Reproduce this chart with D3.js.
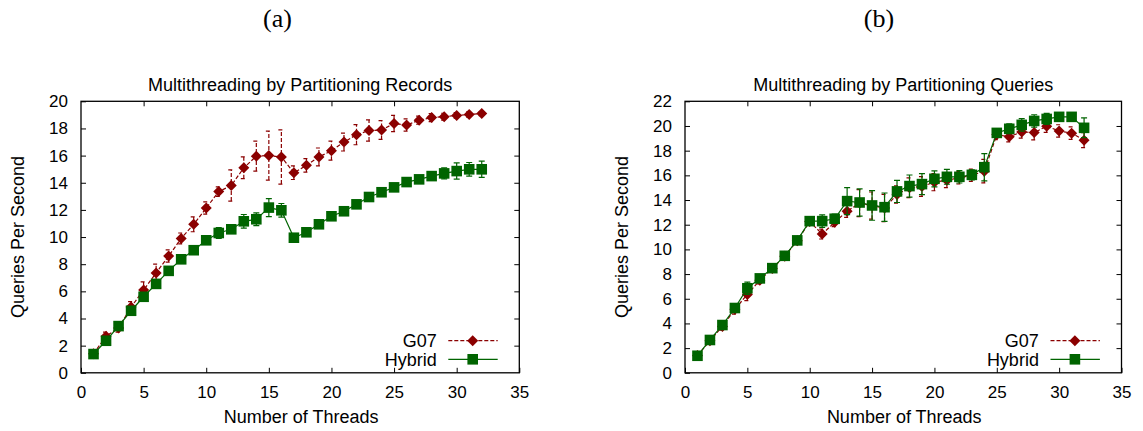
<!DOCTYPE html>
<html>
<head>
<meta charset="utf-8">
<script src="https://cdn.jsdelivr.net/npm/d3@7"></script>
<style>
  body { margin: 0; background: #fff; }
  svg text { font-family: "Liberation Sans", Arial, Helvetica, sans-serif; fill: #000; }
</style>
</head>
<body>
<svg id="chart" width="1143" height="431"></svg>
<script>
// thread counts, shared by both panels
const threads = d3.range(1, 33);

// (a) partitioning records
const recG07 = [1.4, 2.7, 3.3, 4.85, 6.1, 7.36, 8.6, 9.9, 10.94, 12.14, 13.35, 13.8, 15.1, 15.96, 16.0, 15.9,
  14.74, 15.28, 15.9, 16.36, 17.0, 17.54, 17.85, 17.88, 18.37, 18.25, 18.61, 18.8, 18.87, 18.96, 19.03, 19.1];
const recG07Err = [0.1, 0.3, 0.3, 0.4, 0.6, 0.65, 0.45, 0.4, 0.55, 0.45, 0.35, 1.15, 0.8, 1.1, 1.8, 2.0,
  0.5, 0.5, 0.66, 0.7, 0.66, 0.74, 0.78, 0.69, 0.6, 0.45, 0.3, 0.3, 0.25, 0.2, 0.2, 0.15];
const recHybrid = [1.38, 2.36, 3.44, 4.57, 5.6, 6.55, 7.51, 8.36, 9.03, 9.76, 10.3, 10.57, 11.16, 11.31, 12.17, 11.97,
  9.95, 10.35, 10.94, 11.53, 11.9, 12.41, 12.95, 13.3, 13.66, 14.05, 14.25, 14.49, 14.69, 14.86, 14.99, 14.99];
const recHybridErr = [0.1, 0.1, 0.1, 0.15, 0.15, 0.15, 0.15, 0.15, 0.15, 0.2, 0.4, 0.3, 0.5, 0.47, 0.66, 0.5,
  0.2, 0.2, 0.2, 0.2, 0.2, 0.2, 0.2, 0.2, 0.2, 0.2, 0.2, 0.25, 0.4, 0.6, 0.5, 0.6];

// (b) partitioning queries
const qryG07 = [1.4, 2.6, 3.75, 5.15, 6.35, 7.5, 8.45, 9.45, 10.7, 12.25, 11.24, 12.2, 13.1, 13.75, 13.55, 13.35,
  14.45, 15.0, 15.1, 15.45, 15.6, 15.8, 16.0, 16.34, 19.3, 19.12, 19.52, 19.47, 19.98, 19.6, 19.42, 18.85];
const qryG07Err = [0.1, 0.2, 0.3, 0.4, 0.5, 0.3, 0.2, 0.2, 0.2, 0.2, 0.4, 0.35, 0.5, 1.1, 1.1, 1.1,
  0.7, 0.8, 0.8, 0.7, 0.6, 0.5, 0.5, 0.95, 0.4, 0.4, 0.5, 0.6, 0.5, 0.5, 0.5, 0.6];
const qryHybrid = [1.38, 2.66, 3.87, 5.25, 6.85, 7.65, 8.48, 9.48, 10.73, 12.29, 12.29, 12.48, 13.91, 13.8, 13.56, 13.42,
  14.7, 15.13, 15.29, 15.72, 15.88, 15.88, 16.04, 16.66, 19.44, 19.77, 20.09, 20.41, 20.57, 20.74, 20.74, 19.85];
const qryHybridErr = [0.1, 0.15, 0.2, 0.35, 0.5, 0.2, 0.15, 0.15, 0.15, 0.15, 0.5, 0.38, 1.1, 1.1, 1.2, 1.15,
  0.9, 0.9, 0.85, 0.65, 0.6, 0.5, 0.4, 1.1, 0.2, 0.4, 0.5, 0.5, 0.45, 0.35, 0.35, 0.8];

const xTicks = [0, 5, 10, 15, 20, 25, 30, 35];
const yTicksA = d3.range(0, 21, 2);
const yTicksB = d3.range(0, 23, 2);

const RED = "#8b0000";
const GREEN = "#006400";
const TICK = 5;

const svg = d3.select("#chart");
svg.append("rect").attr("width", 1143).attr("height", 431).attr("fill", "#fff");

const diamond = r => `M0,${-r}L${r},0L0,${r}L${-r},0Z`;
const square = r => `M${-r},${-r}H${r}V${r}H${-r}Z`;

function drawSeries(g, x, y, vals, errs, color, dash, marker) {
  const pts = threads.map((t, i) => [t, vals[i], errs[i]]);
  const line = d3.line().x(d => x(d[0])).y(d => y(d[1]));

  g.append("path")
    .attr("d", line(pts))
    .attr("fill", "none")
    .attr("stroke", color)
    .attr("stroke-width", 1.2)
    .attr("stroke-dasharray", dash);

  const eb = g.append("g")
    .attr("stroke", color)
    .attr("stroke-width", 1.2)
    .attr("fill", "none")
    .attr("stroke-dasharray", dash);

  eb.selectAll("path")
    .data(pts)
    .enter()
    .append("path")
    .attr("d", d => {
      const cx = x(d[0]), y0 = y(d[1] - d[2]), y1 = y(d[1] + d[2]);
      return `M${cx},${y0}V${y1}M${cx - 3},${y0}H${cx + 3}M${cx - 3},${y1}H${cx + 3}`;
    });

  g.append("g")
    .selectAll("path")
    .data(pts)
    .enter()
    .append("path")
    .attr("transform", d => `translate(${x(d[0])},${y(d[1])})`)
    .attr("d", marker)
    .attr("fill", color);
}

function panel(opts) {
  const x = d3.scaleLinear().domain([0, 35]).range([opts.left, opts.right]);
  const y = d3.scaleLinear().domain([0, opts.ymax]).range([372.8, 101.3]);
  const g = svg.append("g");

  // ticks, inward on all four sides
  g.append("g")
    .attr("transform", "translate(0,372.8)")
    .call(d3.axisBottom(x).tickValues(xTicks).tickSizeInner(-TICK).tickSizeOuter(0).tickPadding(13))
    .call(a => a.select(".domain").remove())
    .call(a => a.selectAll("text").attr("font-size", 17).attr("font-family", "Liberation Sans, Arial, sans-serif"));
  g.append("g")
    .attr("transform", "translate(0,101.3)")
    .call(d3.axisTop(x).tickValues(xTicks.slice(1, -1)).tickSizeInner(-TICK).tickSizeOuter(0).tickFormat(""))
    .call(a => a.select(".domain").remove());
  g.append("g")
    .attr("transform", `translate(${opts.left},0)`)
    .call(d3.axisLeft(y).tickValues(opts.yTicks).tickSizeInner(-TICK).tickSizeOuter(0).tickPadding(13))
    .call(a => a.select(".domain").remove())
    .call(a => a.selectAll("text").attr("font-size", 17).attr("font-family", "Liberation Sans, Arial, sans-serif"));
  g.append("g")
    .attr("transform", `translate(${opts.right},0)`)
    .call(d3.axisRight(y).tickValues(opts.yTicks.slice(1, -1)).tickSizeInner(-TICK).tickSizeOuter(0).tickFormat(""))
    .call(a => a.select(".domain").remove());

  g.selectAll(".tick line").attr("stroke", "#000");

  const plot = g.append("g");
  drawSeries(plot, x, y, opts.g07, opts.g07Err, RED, "4,2", diamond(5.5));
  drawSeries(plot, x, y, opts.hybrid, opts.hybridErr, GREEN, null, square(5.3));

  g.append("rect")
    .attr("x", opts.left).attr("y", 101.3)
    .attr("width", opts.right - opts.left).attr("height", 372.8 - 101.3)
    .attr("fill", "none").attr("stroke", "#000").attr("stroke-width", 1.3);

  // legend
  const lx = opts.right - 82.6, l0 = opts.right - 71, l1 = opts.right - 21.6, lm = opts.right - 46.6;
  const rows = [
    { name: "G07", color: RED, dash: "4,2", marker: diamond(5.5), yy: 340.7 },
    { name: "Hybrid", color: GREEN, dash: null, marker: square(5.3), yy: 359.3 }
  ];
  rows.forEach(r => {
    g.append("text").attr("x", lx).attr("y", r.yy).attr("dy", "0.35em")
      .attr("text-anchor", "end").attr("font-size", 18).text(r.name);
    g.append("line").attr("x1", l0).attr("x2", l1).attr("y1", r.yy).attr("y2", r.yy)
      .attr("stroke", r.color).attr("stroke-width", 1.2).attr("stroke-dasharray", r.dash);
    g.append("path").attr("transform", `translate(${lm},${r.yy})`).attr("d", r.marker).attr("fill", r.color);
  });

  const cx = (opts.left + opts.right) / 2;
  g.append("text").attr("x", cx).attr("y", 90.5).attr("text-anchor", "middle")
    .attr("font-size", 18).text(opts.title);
  g.append("text").attr("x", cx + 1).attr("y", 423).attr("text-anchor", "middle")
    .attr("font-size", 18).text("Number of Threads");
  g.append("text")
    .attr("transform", `translate(${opts.left - 63.5},237) rotate(-90)`)
    .attr("dy", "0.35em").attr("text-anchor", "middle")
    .attr("font-size", 18).text("Queries Per Second");
  g.append("text").attr("x", opts.labelX).attr("y", 27).attr("text-anchor", "middle")
    .attr("font-size", 26).style("font-family", "'Liberation Serif', 'DejaVu Serif', serif")
    .text(opts.label);
}

panel({
  left: 81, right: 519.3, ymax: 20, yTicks: yTicksA,
  title: "Multithreading by Partitioning Records", label: "(a)", labelX: 277.5,
  g07: recG07, g07Err: recG07Err, hybrid: recHybrid, hybridErr: recHybridErr
});
panel({
  left: 685, right: 1121.5, ymax: 22, yTicks: yTicksB,
  title: "Multithreading by Partitioning Queries", label: "(b)", labelX: 879,
  g07: qryG07, g07Err: qryG07Err, hybrid: qryHybrid, hybridErr: qryHybridErr
});
</script>
</body>
</html>
